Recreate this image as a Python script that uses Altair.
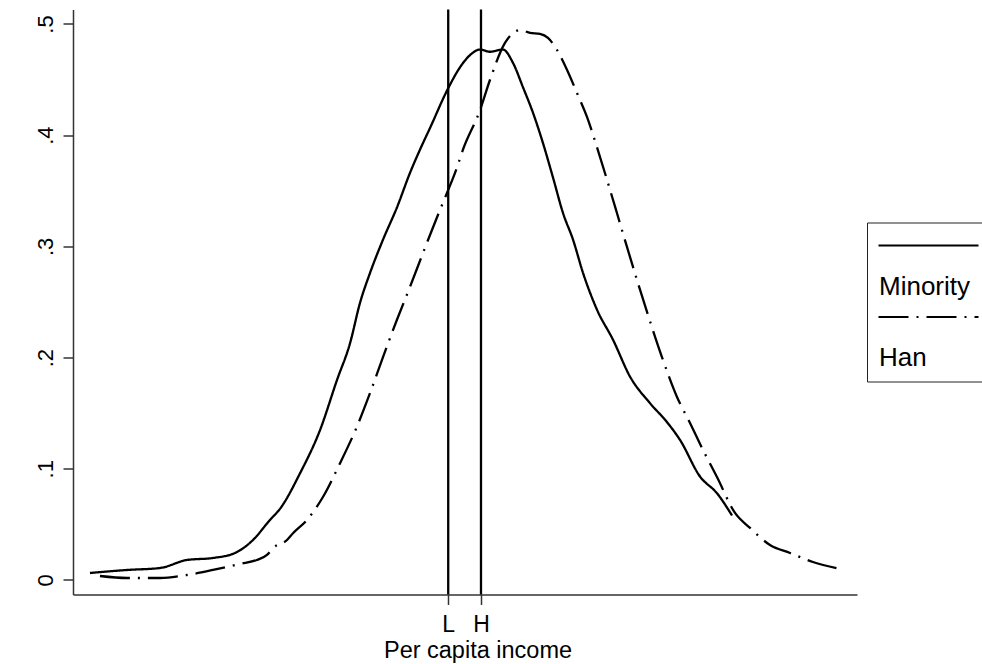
import altair as alt
import pandas as pd

# ---- data ----
minority_x = [5.108, 5.344, 5.555, 5.727, 5.893, 6.033, 6.148, 6.256, 6.320, 6.448,
              6.576, 6.684, 6.767, 6.830, 6.894, 6.977, 7.066, 7.149, 7.213, 7.277,
              7.392, 7.468, 7.532, 7.596, 7.659, 7.742, 7.806, 7.870, 7.934, 7.997,
              8.061, 8.125, 8.189, 8.253, 8.342, 8.444, 8.552, 8.680, 8.788, 8.871,
              8.999, 9.107, 9.203]
minority_y = [0.0063, 0.0090, 0.0108, 0.0180, 0.0198, 0.0243, 0.0360, 0.0540, 0.0640, 0.0960,
              0.1350, 0.1800, 0.2130, 0.2490, 0.2760, 0.3060, 0.3350, 0.3660, 0.3870, 0.4065,
              0.4420, 0.4610, 0.4720, 0.4770, 0.4750, 0.4770, 0.4650, 0.4430, 0.4200, 0.3930,
              0.3620, 0.3300, 0.3060, 0.2760, 0.2430, 0.2160, 0.1830, 0.1590, 0.1420, 0.1260,
              0.0930, 0.0780, 0.0580]

han_x = [5.172, 5.344, 5.555, 5.727, 5.893, 6.065, 6.173, 6.237, 6.276, 6.365,
         6.403, 6.492, 6.594, 6.703, 6.811, 6.894, 6.977, 7.066, 7.149, 7.232,
         7.321, 7.385, 7.449, 7.487, 7.596, 7.659, 7.755, 7.819, 7.851, 7.915,
         7.978, 8.029, 8.087, 8.151, 8.214, 8.278, 8.342, 8.406, 8.469, 8.533,
         8.597, 8.667, 8.756, 8.852, 8.935, 9.018, 9.107, 9.222, 9.318, 9.445,
         9.573, 9.719, 9.892]
han_y = [0.0036, 0.0018, 0.0018, 0.0045, 0.0090, 0.0144, 0.0180, 0.0225, 0.0288, 0.0360,
         0.0420, 0.0540, 0.0746, 0.1050, 0.1380, 0.1680, 0.2005, 0.2340, 0.2635, 0.2940,
         0.3260, 0.3480, 0.3710, 0.3870, 0.4226, 0.4496, 0.4830, 0.4930, 0.4946, 0.4920,
         0.4910, 0.4874, 0.4766, 0.4586, 0.4380, 0.4164, 0.3890, 0.3597, 0.3300, 0.2995,
         0.2698, 0.2383, 0.2005, 0.1646, 0.1412, 0.1169, 0.0926, 0.0603, 0.0468, 0.0315,
         0.0243, 0.0162, 0.0099]

groups = ["Minority", "Han"]
marker_x = [7.393, 7.602]
marker_labels = ["L", "H"]
y_ticks = [0, 0.1, 0.2, 0.3, 0.4, 0.5]
y_tick_labels = ["0", ".1", ".2", ".3", ".4", ".5"]

# ---- tables ----
df = pd.DataFrame({
    "income": minority_x + han_x,
    "density": minority_y + han_y,
    "group": [groups[0]] * len(minority_x) + [groups[1]] * len(han_x),
    "order": list(range(len(minority_x))) + list(range(len(han_x))),
})
markers = pd.DataFrame({"income": marker_x, "label": marker_labels})


def label_expr(values, labels):
    expr = "''"
    for v, l in reversed(list(zip(values, labels))):
        expr = f"abs(datum.value - {v}) < 1e-6 ? '{l}' : ({expr})"
    return expr


FONT = "Liberation Sans"
AXC = "#333333"

x_enc = alt.X(
    "income:Q",
    scale=alt.Scale(domain=[5, 10], nice=False, zero=False),
    axis=alt.Axis(
        values=marker_x,
        labelExpr=label_expr(marker_x, marker_labels),
        grid=False,
        tickSize=10,
        labelPadding=8.5,
        labelFont=FONT,
        labelFontSize=23,
        labelColor="black",
        labelAngle=0,
        title="Per capita income",
        titleFont=FONT,
        titleFontSize=23.5,
        titleFontWeight="normal",
        titleColor="black",
        titleX=404.5,
        titleY=62.5,
        titleAlign="center",
        titleBaseline="alphabetic",
        domainColor=AXC,
        tickColor=AXC,
        domainWidth=1.5,
        tickWidth=1.5,
    ),
)

y_enc = alt.Y(
    "density:Q",
    scale=alt.Scale(domain=[-0.01304, 0.5130], nice=False, zero=False),
    axis=alt.Axis(
        values=y_ticks,
        labelExpr=label_expr(y_ticks, y_tick_labels),
        grid=False,
        tickSize=10,
        labelPadding=11,
        labelAngle=270,
        labelAlign="center",
        labelBaseline="alphabetic",
        labelFont=FONT,
        labelFontSize=22,
        labelColor="black",
        title=None,
        domainColor=AXC,
        tickColor=AXC,
        domainWidth=1.5,
        tickWidth=1.5,
    ),
)

lines = alt.Chart(df).mark_line(color="black", strokeWidth=2.3, interpolate="monotone").encode(
    x=x_enc,
    y=y_enc,
    strokeDash=alt.StrokeDash(
        "group:N",
        sort=groups,
        scale=alt.Scale(domain=groups, range=[[1, 0], [30, 8, 2, 8]]),
        legend=alt.Legend(
            orient="none",
            legendX=794,
            legendY=213,
            direction="vertical",
            title=None,
            strokeColor="#222222",
            padding=10,
            rowPadding=4.5,
            symbolType="M-10,0H10",
            symbolSize=100,
            symbolStrokeWidth=2.2,
            symbolStrokeColor="black",
            symbolOffset=38.5,
            labelOffset={"expr": "-62.5"},
            labelFont=FONT,
            labelFontSize=26,
            labelColor="black",
            labelBaseline="top",
            labelLimit=300,
            labelExpr="['', datum.label]",
        ),
    ),
    order="order:Q",
)

rules = alt.Chart(markers).mark_rule(color="black", strokeWidth=2.3).encode(x=x_enc)

chart = alt.layer(lines, rules).properties(
    width=784,
    height=585,
    autosize=alt.AutoSizeParams(type="none"),
    padding={"left": 73, "top": 9.5, "right": 125, "bottom": 69.5},
    background="white",
).configure_view(stroke=None)

chart.save("out.html", embed_options={"renderer": "svg", "actions": False})
